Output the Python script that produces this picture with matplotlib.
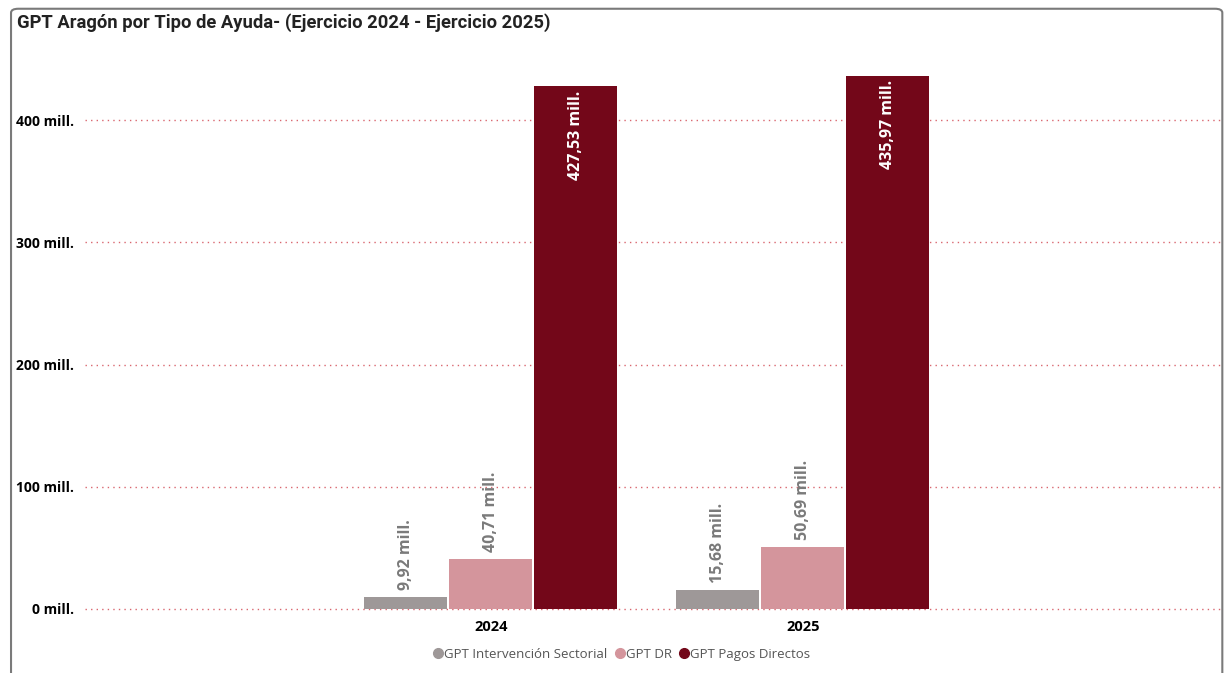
import matplotlib
matplotlib.use("Agg")
import matplotlib.pyplot as plt
import numpy as np
from matplotlib.patches import FancyBboxPatch
from matplotlib.lines import Line2D

years = ["2024", "2025"]
series = ["GPT Intervención Sectorial", "GPT DR", "GPT Pagos Directos"]
intervencion = [9.92, 15.68]
dr = [40.71, 50.69]
pagos = [427.53, 435.97]
colors = ["#9e9898", "#d4959c", "#730719"]
yticks = [0, 100, 200, 300, 400]

fig = plt.figure(figsize=(12.26, 6.73), dpi=100)
ax = fig.add_axes([0.0693, 0.0951, 0.9274, 0.8172])

x = np.arange(len(years))
w = 0.266
for i, (vals, col) in enumerate(zip([intervencion, dr, pagos], colors)):
    pos = x + (i - 1) * (w + 0.006)
    ax.bar(pos, vals, width=w, color=col, zorder=3)
    for p, v in zip(pos, vals):
        lab = f"{v:.2f}".replace(".", ",") + " mill."
        if v > 200:
            ax.annotate(lab, (p, v), xytext=(0, -3), textcoords="offset points",
                        rotation=90, ha="center", va="top", color="white",
                        fontsize=11.5, fontweight="bold", family="Open Sans")
        else:
            ax.annotate(lab, (p, v), xytext=(0, 5), textcoords="offset points",
                        rotation=90, ha="center", va="bottom", color="#7a7a7a",
                        fontsize=11.5, fontweight="bold", family="Open Sans")

ax.set_xlim(-1.30, 2.343)
ax.set_ylim(0, 450)
ax.set_xticks(x)
ax.set_xticklabels(years, fontsize=10.5, fontweight="bold", family="Open Sans")
ax.set_yticks(yticks)
ax.set_yticklabels([f"{t} mill." for t in yticks], fontsize=10, fontweight="bold",
                   family="Open Sans")
ax.tick_params(length=0, pad=8)
for t in yticks:
    ax.axhline(t, color="#d9666f", linestyle=(0, (1, 3)), linewidth=1, zorder=0,
               clip_on=False)
for s in ax.spines.values():
    s.set_visible(False)

fig.text(0.014, 0.966, "GPT Aragón por Tipo de Ayuda- (Ejercicio 2024 - Ejercicio 2025)",
         fontsize=13.2, fontweight="bold", family="Roboto", color="#222222", va="center")

handles = [Line2D([], [], marker="o", linestyle="", color=c, markersize=7) for c in colors]
fig.legend(handles, series, loc="center", bbox_to_anchor=(0.505, 0.028), ncol=3,
           frameon=False, handletextpad=-0.3, columnspacing=0.2, handlelength=1.5,
           prop={"family": "Open Sans", "size": 9.5}, labelcolor="#555555")

frame = FancyBboxPatch((0.009, -0.05), 0.988, 1.037, boxstyle="round,pad=0,rounding_size=0.006",
                       transform=fig.transFigure, fill=False, edgecolor="#7a7a7a",
                       linewidth=1.5, clip_on=False)
fig.patches.append(frame)

fig.savefig("out.png", dpi=100)
